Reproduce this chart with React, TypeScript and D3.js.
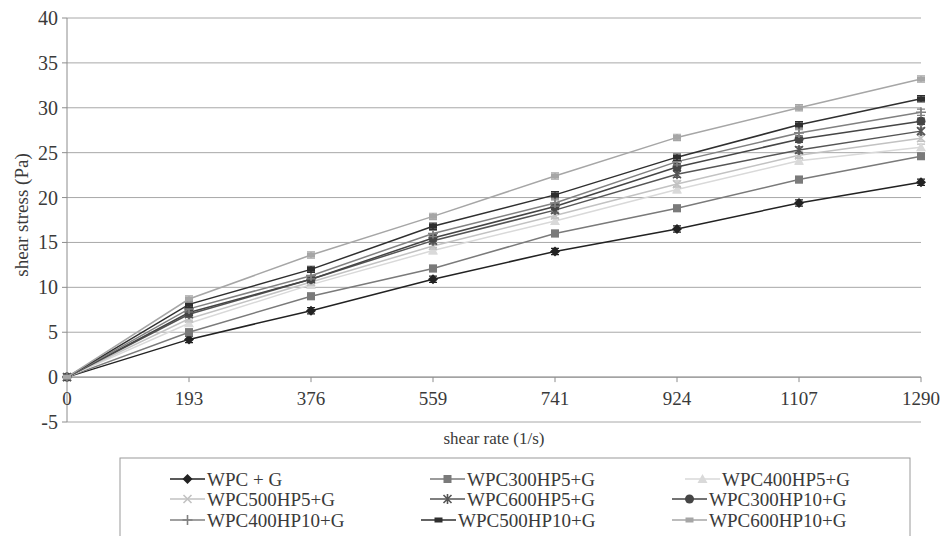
import React from "react";
import * as d3 from "d3";

const shearRates = ["0", "193", "376", "559", "741", "924", "1107", "1290"];
const yTicks = [-5, 0, 5, 10, 15, 20, 25, 30, 35, 40];

const seriesNames = [
  "WPC + G",
  "WPC300HP5+G",
  "WPC400HP5+G",
  "WPC500HP5+G",
  "WPC600HP5+G",
  "WPC300HP10+G",
  "WPC400HP10+G",
  "WPC500HP10+G",
  "WPC600HP10+G",
];

const wpcG = [0, 4.2, 7.4, 10.9, 14.0, 16.5, 19.4, 21.7];
const wpc300hp5 = [0, 5.0, 9.0, 12.1, 16.0, 18.8, 22.0, 24.6];
const wpc400hp5 = [0, 6.0, 10.3, 14.1, 17.4, 20.9, 24.1, 25.6];
const wpc500hp5 = [0, 6.5, 10.6, 14.6, 18.0, 21.5, 24.7, 26.6];
const wpc600hp5 = [0, 7.0, 10.9, 15.2, 18.6, 22.6, 25.3, 27.4];
const wpc300hp10 = [0, 7.2, 10.9, 15.5, 19.0, 23.4, 26.5, 28.5];
const wpc400hp10 = [0, 7.6, 11.3, 16.0, 19.4, 24.0, 27.2, 29.5];
const wpc500hp10 = [0, 8.1, 12.0, 16.8, 20.3, 24.5, 28.1, 31.0];
const wpc600hp10 = [0, 8.7, 13.6, 17.9, 22.4, 26.7, 30.0, 33.2];

const seriesValues = [wpcG, wpc300hp5, wpc400hp5, wpc500hp5, wpc600hp5, wpc300hp10, wpc400hp10, wpc500hp10, wpc600hp10];
const errorBar = 0.35;

const colors = ["#222222", "#7a7a7a", "#d9d9d9", "#c2c2c2", "#555555", "#454545", "#808080", "#2f2f2f", "#a6a6a6"];
const markers = ["diamond", "square", "triangle", "x", "star", "circle", "plus", "dash", "dash"];

// legend layout: [lineStartX, rowY]
const legendPos: [number, number][] = [
  [170, 479], [430, 479], [685, 479],
  [170, 499], [430, 499], [672, 499],
  [170, 520], [421, 520], [672, 520],
];

const W = 950;
const H = 536;
const fontFam = '"Liberation Serif", "DejaVu Serif", serif';
const textColor = "#3a3a3a";

function Marker({ type, x, y, color }: { type: string; x: number; y: number; color: string }) {
  const s = 4;
  switch (type) {
    case "diamond":
      return <path d={`M${x},${y - s - 1}L${x + s + 1},${y}L${x},${y + s + 1}L${x - s - 1},${y}Z`} fill={color} />;
    case "square":
      return <rect x={x - s} y={y - s} width={2 * s} height={2 * s} fill={color} />;
    case "triangle":
      return <path d={`M${x},${y - s - 1}L${x + s + 1},${y + s}L${x - s - 1},${y + s}Z`} fill={color} />;
    case "x":
      return (
        <path d={`M${x - s},${y - s}L${x + s},${y + s}M${x - s},${y + s}L${x + s},${y - s}`} stroke={color} strokeWidth={1.6} />
      );
    case "star":
      return (
        <path
          d={`M${x - s},${y - s}L${x + s},${y + s}M${x - s},${y + s}L${x + s},${y - s}M${x},${y - s - 1}L${x},${y + s + 1}`}
          stroke={color}
          strokeWidth={1.6}
        />
      );
    case "circle":
      return <circle cx={x} cy={y} r={s + 0.5} fill={color} />;
    case "plus":
      return <path d={`M${x - s - 1},${y}L${x + s + 1},${y}M${x},${y - s - 1}L${x},${y + s + 1}`} stroke={color} strokeWidth={1.6} />;
    case "dash":
      return <rect x={x - s} y={y - 2.5} width={2 * s} height={5} fill={color} />;
    default:
      return null;
  }
}

export default function App() {
  const x = d3.scalePoint<string>().domain(shearRates).range([67, 921]);
  const y = d3.scaleLinear().domain([-5, 40]).range([422, 18]);
  const line = d3
    .line<number>()
    .x((_, i) => x(shearRates[i]) as number)
    .y((d) => y(d));
  const tStyle = { fontFamily: fontFam };

  return (
    <svg width={W} height={H} style={{ position: "absolute", left: 0, top: 0, background: "#fff", fontFamily: fontFam }}>
      <rect x={0} y={0} width={W} height={H} fill="#fff" />
      {yTicks.map((t) => (
        <line key={t} x1={67} x2={921} y1={y(t)} y2={y(t)} stroke="#a8a8a8" strokeWidth={1} />
      ))}
      <line x1={67} x2={67} y1={y(40)} y2={y(-5)} stroke="#8c8c8c" strokeWidth={1} />
      {yTicks.map((t) => (
        <g key={"yt" + t}>
          <line x1={62} x2={67} y1={y(t)} y2={y(t)} stroke="#8c8c8c" />
          <text x={58} y={y(t)} dy="0.35em" textAnchor="end" fontSize={20} fill={textColor} style={tStyle}>
            {t}
          </text>
        </g>
      ))}
      <line x1={67} x2={921} y1={y(0)} y2={y(0)} stroke="#8c8c8c" strokeWidth={1} />
      {shearRates.map((c) => (
        <g key={"xt" + c}>
          <line x1={x(c)} x2={x(c)} y1={y(0)} y2={y(0) + 5} stroke="#8c8c8c" />
          <text x={x(c) as number} y={y(0) + 21} dy="0.35em" textAnchor="middle" fontSize={19} fill={textColor} style={tStyle}>
            {c}
          </text>
        </g>
      ))}
      <text x={494} y={438} dy="0.35em" textAnchor="middle" fontSize={17} fill={textColor} style={tStyle}>
        shear rate (1/s)
      </text>
      <text
        transform={`translate(21,215) rotate(-90)`}
        dy="0.35em"
        textAnchor="middle"
        fontSize={19}
        fill={textColor}
        style={tStyle}
      >
        shear stress (Pa)
      </text>
      {seriesValues.map((vals, si) => (
        <g key={"s" + si}>
          <path d={line(vals) || ""} fill="none" stroke={colors[si]} strokeWidth={1.5} />
          {vals.map((v, i) => {
            const cx = x(shearRates[i]) as number;
            return (
              <g key={i}>
                {i > 0 && (
                  <path
                    d={`M${cx - 4},${y(v + errorBar)}H${cx + 4}M${cx},${y(v + errorBar)}V${y(v - errorBar)}M${cx - 4},${y(
                      v - errorBar
                    )}H${cx + 4}`}
                    stroke={colors[si] === "#d9d9d9" ? "#bbbbbb" : colors[si]}
                    strokeWidth={1.2}
                    fill="none"
                  />
                )}
                <Marker type={markers[si]} x={cx} y={y(v)} color={colors[si]} />
              </g>
            );
          })}
        </g>
      ))}
      <rect x={120} y={458} width={790} height={90} fill="#fff" stroke="#9a9a9a" strokeWidth={1} />
      {seriesNames.map((name, si) => {
        const [lx, ly] = legendPos[si];
        return (
          <g key={"l" + si}>
            <line x1={lx} x2={lx + 35} y1={ly} y2={ly} stroke={colors[si]} strokeWidth={1.7} />
            <Marker type={markers[si]} x={lx + 17.5} y={ly} color={colors[si]} />
            <text x={lx + 37} y={ly} dy="0.35em" fontSize={19} fill={textColor} style={tStyle}>
              {name}
            </text>
          </g>
        );
      })}
    </svg>
  );
}
